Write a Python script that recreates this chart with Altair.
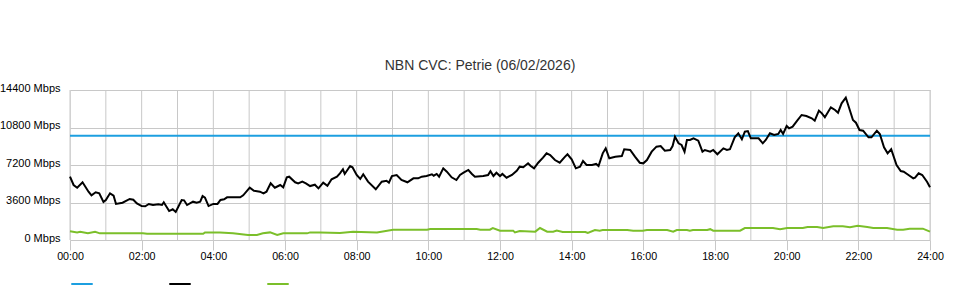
import altair as alt
import pandas as pd

# ---- data ----
series_names = ["Capacity", "Download", "Upload"]
series_colors = ["#1c9fe0", "#000000", "#7bbf2a"]

capacity_min = [0, 1440]
capacity_val = [10000, 10000]

download_min = [0, 6, 12, 21, 31, 36, 43, 49, 56, 60, 67, 73, 77, 88, 100, 106, 112, 120, 126, 132,
                139, 148, 154, 157, 166, 172, 177, 187, 191, 196, 206, 212, 218, 222, 226, 232, 240,
                247, 252, 258, 263, 285, 290, 301, 308, 318, 324, 329, 336, 343, 352, 357, 363, 367,
                377, 382, 389, 395, 402, 410, 416, 424, 431, 438, 447, 452, 457, 460, 469, 473, 480,
                486, 491, 499, 512, 522, 530, 534, 539, 547, 555, 565, 575, 583, 589, 597, 606, 609,
                614, 618, 625, 631, 639, 647, 653, 659, 667, 673, 678, 692, 700, 704, 709, 714, 720,
                724, 731, 740, 748, 753, 759, 767, 771, 777, 784, 792, 798, 804, 812, 820, 829, 833,
                840, 847, 854, 859, 865, 874, 881, 885, 892, 897, 903, 913, 924, 928, 938, 946, 954,
                960, 966, 974, 982, 989, 996, 1005, 1009, 1013, 1019, 1024, 1029, 1033, 1038, 1044,
                1052, 1059, 1063, 1072, 1077, 1084, 1094, 1100, 1105, 1113, 1119, 1125, 1130, 1135,
                1140, 1153, 1160, 1165, 1172, 1179, 1186, 1190, 1194, 1200, 1204, 1210, 1217, 1225,
                1233, 1242, 1247, 1254, 1259, 1264, 1274, 1281, 1286, 1292, 1299, 1303, 1311, 1316,
                1322, 1328, 1337, 1342, 1351, 1356, 1363, 1369, 1375, 1384, 1391, 1396, 1404, 1412,
                1415, 1421, 1427, 1435, 1440]
download_val = [6080, 5280, 5020, 5540, 4640, 4290, 4580, 4480, 3650, 3840, 4480, 4250, 3460, 3580,
                3940, 3870, 3520, 3260, 3240, 3460, 3360, 3430, 3360, 3620, 2780, 2950, 2690, 3840,
                3810, 3360, 3680, 3580, 3680, 4220, 4060, 3260, 3460, 3460, 3840, 3910, 4100, 4100,
                4290, 5020, 4730, 4640, 4480, 4640, 5440, 5020, 5280, 5060, 6020, 6080, 5540, 5440,
                5600, 5440, 5180, 5310, 4960, 5500, 5210, 5830, 6080, 6400, 6790, 6340, 7100, 6980,
                6240, 5860, 6310, 5600, 4870, 5600, 5690, 5500, 6140, 6240, 5760, 5540, 5920, 5920,
                6080, 6140, 6310, 6170, 6340, 6080, 6880, 6560, 6020, 5760, 6240, 6460, 6720, 6340,
                6080, 6140, 6240, 6600, 6140, 6460, 6140, 6340, 5980, 6240, 6650, 7040, 6980, 7360,
                7130, 6880, 7420, 7900, 8320, 8160, 7680, 7420, 8000, 8230, 7750, 6880, 7040, 7580,
                7200, 7200, 7300, 7100, 8320, 8800, 7840, 8000, 8060, 8710, 8640, 8000, 7420, 7360,
                7680, 8480, 8960, 9020, 8570, 8640, 9020, 9920, 9280, 9120, 8480, 9600, 9600, 9760,
                9530, 8480, 8640, 8480, 8640, 8230, 8800, 8640, 8710, 9860, 10240, 9670, 10400,
                10460, 9760, 9760, 9280, 9600, 10240, 10080, 10180, 10560, 10180, 10940, 10720,
                10880, 11420, 12000, 11900, 11680, 11450, 12410, 12160, 11780, 12740, 12480, 12220,
                13120, 13660, 12960, 11520, 11260, 10560, 10490, 9860, 9860, 10490, 10180, 8900,
                8320, 8710, 7200, 6620, 6560, 6240, 5920, 5980, 6400, 6240, 5600, 5060]

upload_min = [0, 12, 17, 30, 42, 50, 122, 129, 223, 226, 251, 273, 298, 313, 323, 335, 347, 357,
              397, 402, 419, 452, 474, 514, 541, 598, 603, 681, 687, 703, 708, 720, 742, 745, 753,
              779, 787, 799, 809, 815, 825, 863, 867, 879, 887, 892, 933, 943, 959, 966, 1000,
              1010, 1016, 1033, 1038, 1043, 1067, 1072, 1077, 1122, 1130, 1177, 1189, 1201, 1227,
              1235, 1251, 1261, 1278, 1294, 1306, 1319, 1335, 1345, 1368, 1385, 1395, 1406, 1428,
              1440]
upload_val = [830, 730, 790, 640, 790, 640, 640, 600, 600, 730, 730, 640, 480, 480, 640, 730, 480,
              640, 640, 730, 730, 670, 780, 730, 990, 990, 1050, 1050, 990, 990, 1150, 900, 900,
              730, 860, 800, 1150, 800, 800, 900, 770, 770, 670, 960, 900, 960, 960, 900, 900, 960,
              960, 800, 960, 960, 900, 960, 960, 1040, 900, 900, 1150, 1150, 1040, 1150, 1150,
              1250, 1250, 1150, 1310, 1310, 1230, 1370, 1250, 1150, 1150, 990, 990, 1090, 1090,
              800]

grid_hours = list(range(0, 25))
x_tick_hours = list(range(0, 25, 2))
y_ticks = [0, 3600, 7200, 10800, 14400]

# ---- build table ----
frames = []
for name, mins, vals in [(series_names[0], capacity_min, capacity_val),
                         (series_names[1], download_min, download_val),
                         (series_names[2], upload_min, upload_val)]:
    frames.append(pd.DataFrame({"series": name, "hour": [m / 60 for m in mins], "mbps": vals}))
df = pd.concat(frames, ignore_index=True)
grid_df = pd.DataFrame({"hour": grid_hours})

FONT = "Liberation Sans"
GRID = "#c8c8c8"

x_scale = alt.Scale(domain=[0, 24], nice=False, zero=False)
x_axis = alt.Axis(values=x_tick_hours, grid=False, domain=False, tickSize=10,
                  tickColor=GRID, labelPadding=1, labelFlush=False, labelFontSize=10.7,
                  title=None,
                  labelExpr="(datum.value < 10 ? '0' : '') + datum.value + ':00'")

grid = alt.Chart(grid_df).mark_rule(color=GRID, strokeWidth=1).encode(
    x=alt.X("hour:Q", scale=x_scale, axis=x_axis)
)

lines = alt.Chart(df).mark_line(strokeWidth=2, interpolate="linear").encode(
    x=alt.X("hour:Q", scale=x_scale, axis=x_axis),
    y=alt.Y("mbps:Q", scale=alt.Scale(domain=[0, 14400], nice=False),
            axis=alt.Axis(values=y_ticks, grid=True, gridColor=GRID, domain=False, ticks=False,
                          labelPadding=10, labelOffset=-2, labelFontSize=11, title=None,
                          labelExpr="datum.value + ' Mbps'")),
    color=alt.Color("series:N",
                    scale=alt.Scale(domain=series_names, range=series_colors),
                    legend=alt.Legend(title=None, orient="none", legendX=0, legendY=182,
                                      direction="horizontal", symbolType="stroke",
                                      symbolSize=460, symbolStrokeWidth=2, labelExpr="''",
                                      labelOffset=0, columnPadding=68, padding=0)),
    order=alt.Order("hour:Q"),
)

chart = alt.layer(grid, lines).properties(
    width=860,
    height=150,
    autosize=alt.AutoSizeParams(type="none"),
    padding={"left": 70, "top": 90, "right": 30, "bottom": 60},
    title=alt.TitleParams("NBN CVC: Petrie (06/02/2026)", anchor="middle", dx=-20, offset=9,
                          fontSize=14, fontWeight="normal", font=FONT, color="#333333"),
).configure_view(stroke=None).configure_axis(
    labelFont=FONT, labelColor="#333333"
).configure(background="white")

chart.save("out.html", embed_options={"renderer": "svg", "actions": False})
